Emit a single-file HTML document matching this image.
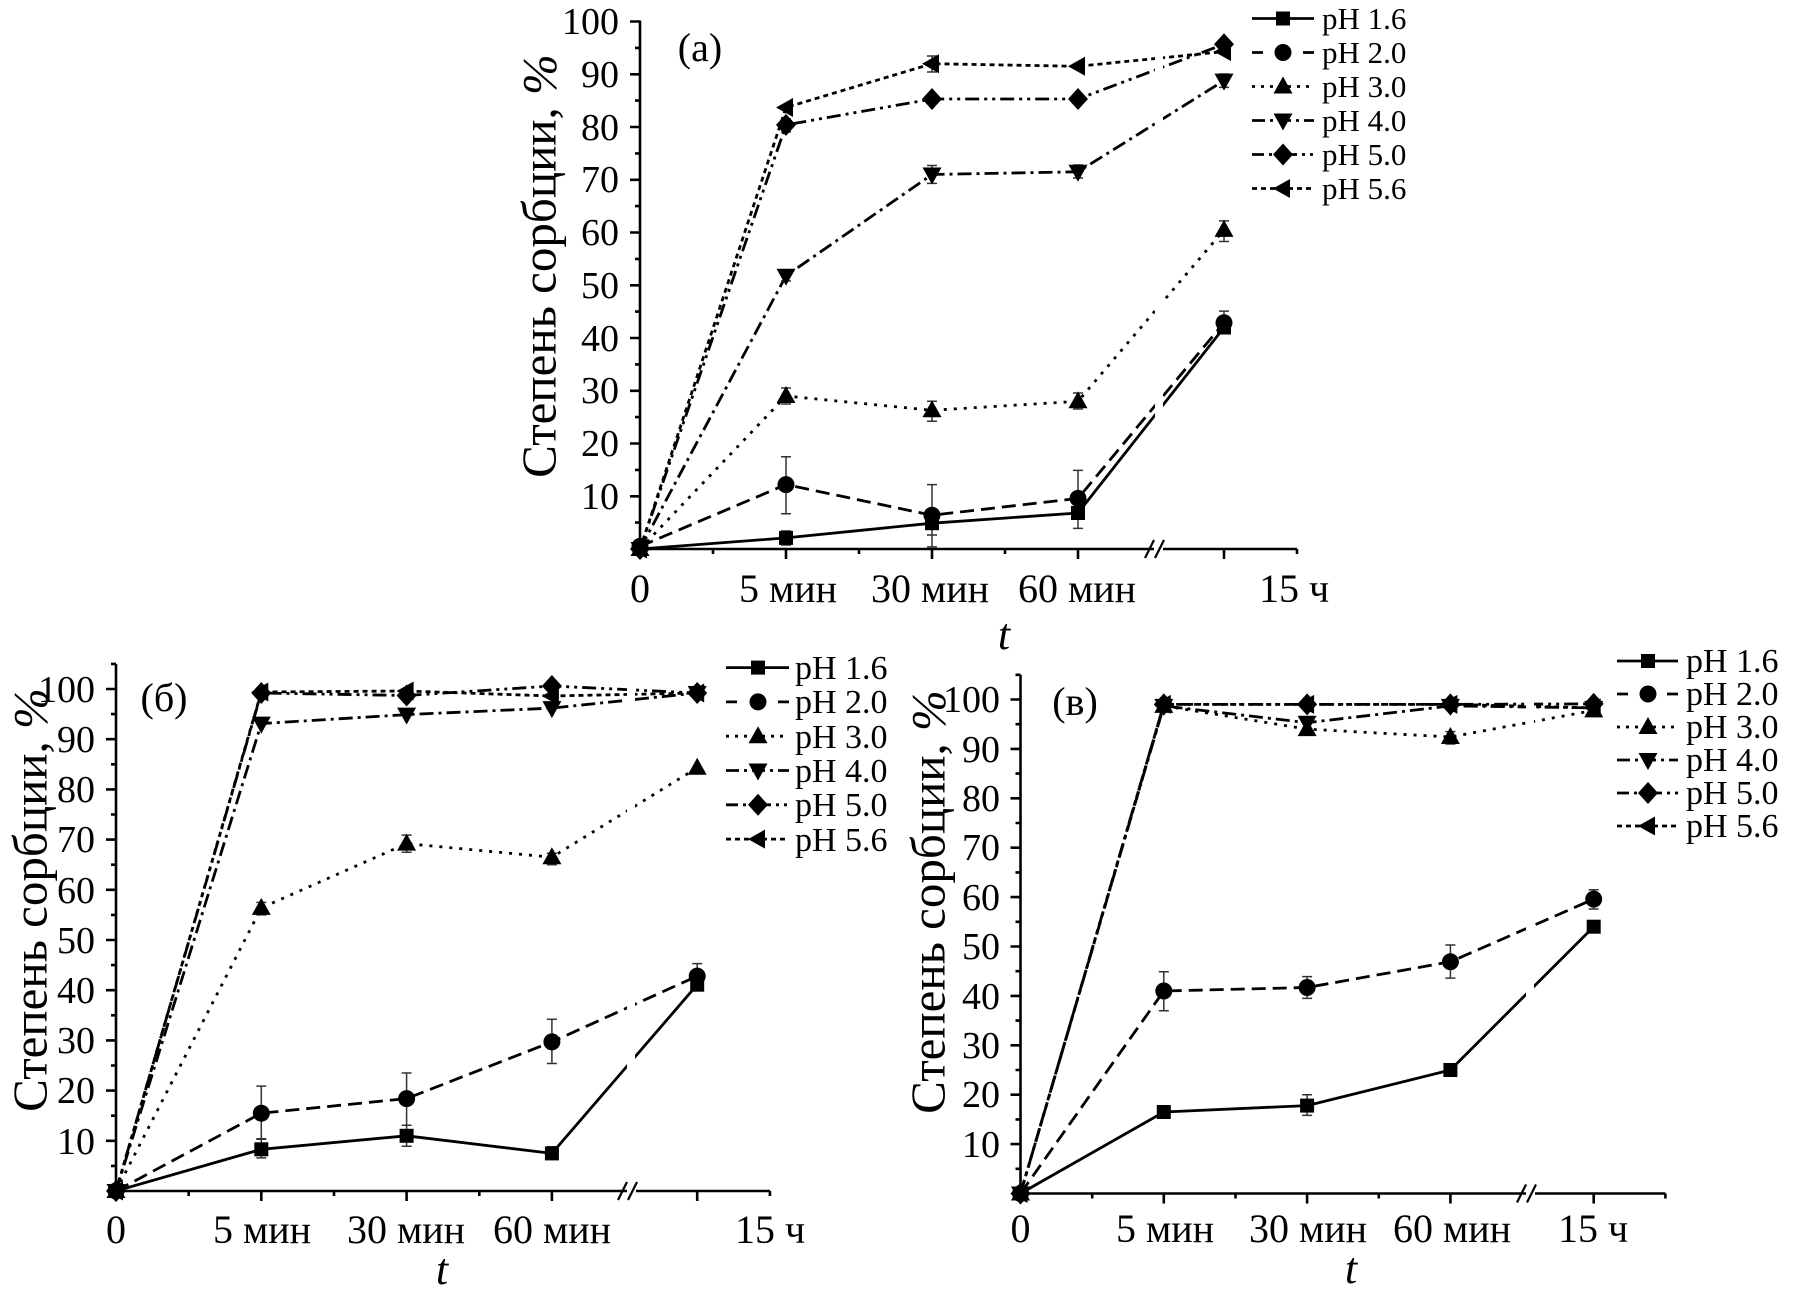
<!DOCTYPE html>
<html>
<head>
<meta charset="utf-8">
<style>
html,body{margin:0;padding:0;background:#fff;}
svg{display:block;}
text{font-family:"Liberation Serif","DejaVu Serif",serif;fill:#000;}
</style>
</head>
<body>
<svg width="1794" height="1307" viewBox="0 0 1794 1307" xmlns="http://www.w3.org/2000/svg">
<defs>
  <rect id="sq" x="-7" y="-7" width="14" height="14" fill="#000"/>
  <circle id="ci" r="8.5" fill="#000"/>
  <polygon id="tu" points="0,-10 9.5,7 -9.5,7" fill="#000"/>
  <polygon id="td" points="0,10 9.5,-7 -9.5,-7" fill="#000"/>
  <polygon id="di" points="0,-11 10,0 0,11 -10,0" fill="#000"/>
  <polygon id="tl" points="-10,0 7,-9.5 7,9.5" fill="#000"/>
</defs>
<rect width="1794" height="1307" fill="#fff"/>

<!-- ================= PLOT (a) ================= -->
<g fill="none" stroke="#000" stroke-width="2.8" stroke-linejoin="round">
  <polyline points="640,549 786,537.9 932,523.2 1078,513 1224,327.5"/>
  <polyline stroke-dasharray="14 7" points="640,546.4 786,484.6 932,515.2 1078,498.4 1224,322.7"/>
  <polyline stroke-dasharray="3 7" points="640,549 786,396 932,410.3 1078,401.3 1224,229.9"/>
  <polyline stroke-dasharray="14 5 3 5" points="640,549 786,275.8 932,174.5 1078,171.8 1224,80.6"/>
  <polyline stroke-dasharray="14 5 3 5 3 5" points="640,549 786,124.9 932,99 1078,99 1224,44.2"/>
  <polyline stroke-dasharray="5 4" points="640,549 786,107.5 932,63.7 1078,66.3 1224,51.6"/>
</g>
<rect x="1155" y="25" width="8" height="520" fill="#fff"/>
<!-- error bars (a) -->
<path fill="none" stroke="#333" stroke-width="1.5" d="
M786,456.7V513.7M781,456.7H791M781,513.7H791
M932,484.6V546.9M927,484.6H937M927,546.9H937
M1078,470.4V528.4M1073,470.4H1083M1073,528.4H1083
M1224,311.1V332.7M1219,311.1H1229M1219,332.7H1229
M786,531V545M781,531H791M781,545H791
M932,512V535M927,512H937M927,535H937
M786,388V404M781,388H791M781,404H791
M932,401.3V421.3M927,401.3H937M927,421.3H937
M1078,393V409M1073,393H1083M1073,409H1083
M1224,220.9V241.5M1219,220.9H1229M1219,241.5H1229
M932,165.5V183.4M927,165.5H937M927,183.4H937
M1078,165V178M1073,165H1083M1073,178H1083
M786,270.5V281M781,270.5H791M781,281H791
M1224,74V87.4M1219,74H1229M1219,87.4H1229
M932,56V72M927,56H937M927,72H937
M786,119V132M781,119H791M781,132H791"/>
<!-- markers (a) -->
<g>
  <use href="#sq" x="640" y="549"/><use href="#sq" x="786" y="537.9"/><use href="#sq" x="932" y="523.2"/><use href="#sq" x="1078" y="513"/><use href="#sq" x="1224" y="327.5"/>
  <use href="#ci" x="640" y="546.4"/><use href="#ci" x="786" y="484.6"/><use href="#ci" x="932" y="515.2"/><use href="#ci" x="1078" y="498.4"/><use href="#ci" x="1224" y="322.7"/>
  <use href="#tu" x="640" y="549"/><use href="#tu" x="786" y="396"/><use href="#tu" x="932" y="410.3"/><use href="#tu" x="1078" y="401.3"/><use href="#tu" x="1224" y="229.9"/>
  <use href="#td" x="640" y="549"/><use href="#td" x="786" y="275.8"/><use href="#td" x="932" y="174.5"/><use href="#td" x="1078" y="171.8"/><use href="#td" x="1224" y="80.6"/>
  <use href="#di" x="640" y="549"/><use href="#di" x="786" y="124.9"/><use href="#di" x="932" y="99"/><use href="#di" x="1078" y="99"/><use href="#di" x="1224" y="44.2"/>
  <use href="#tl" x="640" y="549"/><use href="#tl" x="786" y="107.5"/><use href="#tl" x="932" y="63.7"/><use href="#tl" x="1078" y="66.3"/><use href="#tl" x="1224" y="51.6"/>
</g>
<!-- axes (a) -->
<g fill="none" stroke="#000" stroke-width="2.6">
  <path d="M640,20.5V559 M640,549H1154 M1163,549H1297"/>
  <path d="M630,21.5H640 M635,47.9H640 M630,74.3H640 M635,100.6H640 M630,127H640 M635,153.4H640 M630,179.8H640 M635,206.1H640 M630,232.5H640 M635,258.9H640 M630,285.3H640 M635,311.6H640 M630,338H640 M635,364.4H640 M630,390.8H640 M635,417.1H640 M630,443.5H640 M635,469.9H640 M630,496.3H640 M635,522.6H640"/>
  <path d="M713,549V554 M786,549V559 M859,549V554 M932,549V559 M1005,549V554 M1078,549V559 M1224,549V559 M1297,549V554"/>
  <path stroke-width="2.2" d="M1145,558L1154,540 M1155,558L1164,540"/>
</g>
<g font-size="38" text-anchor="end">
  <text x="619" y="34">100</text><text x="619" y="87">90</text><text x="619" y="140">80</text><text x="619" y="192">70</text><text x="619" y="245">60</text><text x="619" y="298">50</text><text x="619" y="351">40</text><text x="619" y="403">30</text><text x="619" y="456">20</text><text x="619" y="509">10</text>
</g>
<g font-size="40" text-anchor="middle">
  <text x="640" y="602">0</text>
  <text x="788" y="602">5 мин</text>
  <text x="930" y="602">30 мин</text>
  <text x="1077" y="602">60 мин</text>
  <text x="1294" y="602">15 ч</text>
  <text x="700" y="61">(a)</text>
</g>
<text x="1004" y="649" font-size="44" font-style="italic" text-anchor="middle">t</text>
<text transform="translate(539,266) rotate(-90)" font-size="49" text-anchor="middle" dominant-baseline="central">Степень сорбции, <tspan font-style="italic">%</tspan></text>
<!-- legend (a) -->
<g fill="none" stroke="#000" stroke-width="2.8">
  <path d="M1252,18.5H1314"/>
  <path stroke-dasharray="11 40 11" d="M1252,52.5H1314"/>
  <path stroke-dasharray="3 6" d="M1252,86.5H1314"/>
  <path stroke-dasharray="13 5 3 5" d="M1252,120.5H1314"/>
  <path stroke-dasharray="12 5 3 5 3 5" d="M1252,154.5H1314"/>
  <path stroke-dasharray="5 4" d="M1252,188.5H1314"/>
</g>
<use href="#sq" x="1283" y="18.5"/><use href="#ci" x="1283" y="52.5"/><use href="#tu" x="1283" y="86.5"/><use href="#td" x="1283" y="120.5"/><use href="#di" x="1283" y="154.5"/><use href="#tl" x="1283" y="188.5"/>
<g font-size="31">
  <text x="1322" y="29">pH 1.6</text><text x="1322" y="63">pH 2.0</text><text x="1322" y="97">pH 3.0</text><text x="1322" y="131">pH 4.0</text><text x="1322" y="165">pH 5.0</text><text x="1322" y="199">pH 5.6</text>
</g>

<!-- ================= PLOT (б) ================= -->
<g fill="none" stroke="#000" stroke-width="2.8" stroke-linejoin="round">
  <polyline points="116,1191 261.3,1149.3 406.6,1135.8 551.9,1153.4 697.2,984.7"/>
  <polyline stroke-dasharray="14 7" points="116,1191 261.3,1113.2 406.6,1098.6 551.9,1041.9 697.2,976.1"/>
  <polyline stroke-dasharray="3 7" points="116,1191 261.3,907.9 406.6,843.6 551.9,857.2 697.2,767.8"/>
  <polyline stroke-dasharray="14 5 3 5" points="116,1191 261.3,723.6 406.6,714.6 551.9,708.1 697.2,693"/>
  <polyline stroke-dasharray="14 5 3 5 3 5" points="116,1191 261.3,693 406.6,695.5 551.9,686 697.2,693"/>
  <polyline stroke-dasharray="5 4" points="116,1191 261.3,692 406.6,691 551.9,696 697.2,693"/>
</g>
<rect x="627" y="670" width="8" height="517" fill="#fff"/>
<path fill="none" stroke="#333" stroke-width="1.5" d="
M261.3,1086.1V1138.8M256.3,1086.1H266.3M256.3,1138.8H266.3
M406.6,1073V1125.2M401.6,1073H411.6M401.6,1125.2H411.6
M551.9,1019.3V1063.5M546.9,1019.3H556.9M546.9,1063.5H556.9
M697.2,963.6V985.2M692.2,963.6H702.2M692.2,985.2H702.2
M261.3,1139.3V1157.9M256.3,1139.3H266.3M256.3,1157.9H266.3
M406.6,1125.2V1146.3M401.6,1125.2H411.6M401.6,1146.3H411.6
M551.9,1146.8V1158.4M546.9,1146.8H556.9M546.9,1158.4H556.9
M406.6,835.1V852.2M401.6,835.1H411.6M401.6,852.2H411.6
M261.3,902.4V914.9M256.3,902.4H266.3M256.3,914.9H266.3
M551.9,853.2V864.7M546.9,853.2H556.9M546.9,864.7H556.9"/>
<g>
  <use href="#sq" x="116" y="1191"/><use href="#sq" x="261.3" y="1149.3"/><use href="#sq" x="406.6" y="1135.8"/><use href="#sq" x="551.9" y="1153.4"/><use href="#sq" x="697.2" y="984.7"/>
  <use href="#ci" x="116" y="1191"/><use href="#ci" x="261.3" y="1113.2"/><use href="#ci" x="406.6" y="1098.6"/><use href="#ci" x="551.9" y="1041.9"/><use href="#ci" x="697.2" y="976.1"/>
  <use href="#tu" x="116" y="1191"/><use href="#tu" x="261.3" y="907.9"/><use href="#tu" x="406.6" y="843.6"/><use href="#tu" x="551.9" y="857.2"/><use href="#tu" x="697.2" y="767.8"/>
  <use href="#td" x="116" y="1191"/><use href="#td" x="261.3" y="723.6"/><use href="#td" x="406.6" y="714.6"/><use href="#td" x="551.9" y="708.1"/><use href="#td" x="697.2" y="693"/>
  <use href="#di" x="116" y="1191"/><use href="#di" x="261.3" y="693"/><use href="#di" x="406.6" y="695.5"/><use href="#di" x="551.9" y="686"/><use href="#di" x="697.2" y="693"/>
  <use href="#tl" x="116" y="1191"/><use href="#tl" x="261.3" y="692"/><use href="#tl" x="406.6" y="691"/><use href="#tl" x="551.9" y="696"/><use href="#tl" x="697.2" y="693"/>
</g>
<g fill="none" stroke="#000" stroke-width="2.6">
  <path d="M116,663.9V1201 M116,1191H627 M636,1191H770"/>
  <path d="M111,663.9H116 M106,689H116 M111,714.1H116 M106,739.2H116 M111,764.3H116 M106,789.4H116 M111,814.5H116 M106,839.6H116 M111,864.7H116 M106,889.8H116 M111,914.9H116 M106,940H116 M111,965.1H116 M106,990.2H116 M111,1015.3H116 M106,1040.4H116 M111,1065.5H116 M106,1090.6H116 M111,1115.7H116 M106,1140.8H116 M111,1165.9H116"/>
  <path d="M188.7,1191V1196 M261.3,1191V1201 M334,1191V1196 M406.6,1191V1201 M479.3,1191V1196 M551.9,1191V1201 M697.2,1191V1201 M769.9,1191V1196"/>
  <path stroke-width="2.2" d="M618,1200L627,1182 M628,1200L637,1182"/>
</g>
<g font-size="38" text-anchor="end">
  <text x="95" y="702">100</text><text x="95" y="752">90</text><text x="95" y="802">80</text><text x="95" y="852">70</text><text x="95" y="903">60</text><text x="95" y="953">50</text><text x="95" y="1003">40</text><text x="95" y="1053">30</text><text x="95" y="1103">20</text><text x="95" y="1154">10</text>
</g>
<g font-size="40" text-anchor="middle">
  <text x="116" y="1243">0</text>
  <text x="262" y="1243">5 мин</text>
  <text x="406" y="1243">30 мин</text>
  <text x="552" y="1243">60 мин</text>
  <text x="770" y="1243">15 ч</text>
  <text x="164" y="711">(б)</text>
</g>
<text x="442" y="1284" font-size="44" font-style="italic" text-anchor="middle">t</text>
<text transform="translate(30,900) rotate(-90)" font-size="49" text-anchor="middle" dominant-baseline="central">Степень сорбции, <tspan font-style="italic">%</tspan></text>
<g fill="none" stroke="#000" stroke-width="2.8">
  <path d="M726,667.6H789"/>
  <path stroke-dasharray="11 41 11" d="M726,701.9H789"/>
  <path stroke-dasharray="3 6" d="M726,736.2H789"/>
  <path stroke-dasharray="13 5 3 5" d="M726,770.5H789"/>
  <path stroke-dasharray="12 5 3 5 3 5" d="M726,804.8H789"/>
  <path stroke-dasharray="5 4" d="M726,839.1H789"/>
</g>
<use href="#sq" x="758" y="667.6"/><use href="#ci" x="758" y="701.9"/><use href="#tu" x="758" y="736.2"/><use href="#td" x="758" y="770.5"/><use href="#di" x="758" y="804.8"/><use href="#tl" x="758" y="839.1"/>
<g font-size="34">
  <text x="795" y="679">pH 1.6</text><text x="795" y="713">pH 2.0</text><text x="795" y="748">pH 3.0</text><text x="795" y="782">pH 4.0</text><text x="795" y="816">pH 5.0</text><text x="795" y="851">pH 5.6</text>
</g>

<!-- ================= PLOT (в) ================= -->
<g fill="none" stroke="#000" stroke-width="2.8" stroke-linejoin="round">
  <polyline points="1020.5,1193.5 1163.8,1112 1307.1,1105.6 1450.4,1070 1593.7,926.7"/>
  <polyline stroke-dasharray="14 7" points="1020.5,1193.5 1163.8,991 1307.1,987.5 1450.4,961.8 1593.7,899.1"/>
  <polyline stroke-dasharray="3 7" points="1020.5,1193.5 1163.8,705.9 1307.1,729.1 1450.4,737 1593.7,710.4"/>
  <polyline stroke-dasharray="14 5 3 5" points="1020.5,1193.5 1163.8,705.9 1307.1,722.7 1450.4,705.9 1593.7,707.9"/>
  <polyline stroke-dasharray="14 5 3 5 3 5" points="1020.5,1193.5 1163.8,704.4 1307.1,704.4 1450.4,704.4 1593.7,703.9"/>
  <polyline stroke-dasharray="5 4" points="1020.5,1193.5 1163.8,704.4 1307.1,704.4 1450.4,704.4 1593.7,707.9"/>
</g>
<rect x="1526" y="680" width="8" height="509" fill="#fff"/>
<path fill="none" stroke="#333" stroke-width="1.5" d="
M1163.8,971.7V1010.7M1158.8,971.7H1168.8M1158.8,1010.7H1168.8
M1307.1,976.6V998.4M1302.1,976.6H1312.1M1302.1,998.4H1312.1
M1450.4,945V978.1M1445.4,945H1455.4M1445.4,978.1H1455.4
M1593.7,889.7V909M1588.7,889.7H1598.7M1588.7,909H1598.7
M1307.1,1094.7V1115.4M1302.1,1094.7H1312.1M1302.1,1115.4H1312.1
M1163.8,1107V1117M1158.8,1107H1168.8M1158.8,1117H1168.8
M1450.4,731.6V744M1445.4,731.6H1455.4M1445.4,744H1455.4
M1307.1,719V733M1302.1,719H1312.1M1302.1,733H1312.1"/>
<g>
  <use href="#sq" x="1020.5" y="1193.5"/><use href="#sq" x="1163.8" y="1112"/><use href="#sq" x="1307.1" y="1105.6"/><use href="#sq" x="1450.4" y="1070"/><use href="#sq" x="1593.7" y="926.7"/>
  <use href="#ci" x="1020.5" y="1193.5"/><use href="#ci" x="1163.8" y="991"/><use href="#ci" x="1307.1" y="987.5"/><use href="#ci" x="1450.4" y="961.8"/><use href="#ci" x="1593.7" y="899.1"/>
  <use href="#tu" x="1020.5" y="1193.5"/><use href="#tu" x="1163.8" y="705.9"/><use href="#tu" x="1307.1" y="729.1"/><use href="#tu" x="1450.4" y="737"/><use href="#tu" x="1593.7" y="710.4"/>
  <use href="#td" x="1020.5" y="1193.5"/><use href="#td" x="1163.8" y="705.9"/><use href="#td" x="1307.1" y="722.7"/><use href="#td" x="1450.4" y="705.9"/><use href="#td" x="1593.7" y="707.9"/>
  <use href="#di" x="1020.5" y="1193.5"/><use href="#di" x="1163.8" y="704.4"/><use href="#di" x="1307.1" y="704.4"/><use href="#di" x="1450.4" y="704.4"/><use href="#di" x="1593.7" y="703.9"/>
  <use href="#tl" x="1020.5" y="1193.5"/><use href="#tl" x="1163.8" y="704.4"/><use href="#tl" x="1307.1" y="704.4"/><use href="#tl" x="1450.4" y="704.4"/><use href="#tl" x="1593.7" y="707.9"/>
</g>
<g fill="none" stroke="#000" stroke-width="2.6">
  <path d="M1020.5,674.8V1203.5 M1020.5,1193.5H1526 M1535,1193.5H1665.4"/>
  <path d="M1015.5,674.8H1020.5 M1010.5,699.5H1020.5 M1015.5,724.2H1020.5 M1010.5,748.9H1020.5 M1015.5,773.6H1020.5 M1010.5,798.3H1020.5 M1015.5,823H1020.5 M1010.5,847.7H1020.5 M1015.5,872.4H1020.5 M1010.5,897.1H1020.5 M1015.5,921.8H1020.5 M1010.5,946.5H1020.5 M1015.5,971.2H1020.5 M1010.5,995.9H1020.5 M1015.5,1020.6H1020.5 M1010.5,1045.3H1020.5 M1015.5,1070H1020.5 M1010.5,1094.7H1020.5 M1015.5,1119.4H1020.5 M1010.5,1144.1H1020.5 M1015.5,1168.8H1020.5"/>
  <path d="M1092.2,1193.5V1198.5 M1163.8,1193.5V1203.5 M1235.5,1193.5V1198.5 M1307.1,1193.5V1203.5 M1378.8,1193.5V1198.5 M1450.4,1193.5V1203.5 M1593.7,1193.5V1203.5 M1665.4,1193.5V1198.5"/>
  <path stroke-width="2.2" d="M1517,1202.5L1526,1184.5 M1527,1202.5L1536,1184.5"/>
</g>
<g font-size="38" text-anchor="end">
  <text x="1000" y="712">100</text><text x="1000" y="762">90</text><text x="1000" y="811">80</text><text x="1000" y="860">70</text><text x="1000" y="910">60</text><text x="1000" y="959">50</text><text x="1000" y="1009">40</text><text x="1000" y="1058">30</text><text x="1000" y="1107">20</text><text x="1000" y="1157">10</text>
</g>
<g font-size="40" text-anchor="middle">
  <text x="1020.5" y="1242">0</text>
  <text x="1165" y="1242">5 мин</text>
  <text x="1308" y="1242">30 мин</text>
  <text x="1452" y="1242">60 мин</text>
  <text x="1593" y="1242">15 ч</text>
  <text x="1075" y="715">(в)</text>
</g>
<text x="1351" y="1283" font-size="44" font-style="italic" text-anchor="middle">t</text>
<text transform="translate(928,902) rotate(-90)" font-size="49" text-anchor="middle" dominant-baseline="central">Степень сорбции, <tspan font-style="italic">%</tspan></text>
<g fill="none" stroke="#000" stroke-width="2.8">
  <path d="M1617,661H1678"/>
  <path stroke-dasharray="11 39 11" d="M1617,694H1678"/>
  <path stroke-dasharray="3 6" d="M1617,727H1678"/>
  <path stroke-dasharray="13 5 3 5" d="M1617,760H1678"/>
  <path stroke-dasharray="12 5 3 5 3 5" d="M1617,793H1678"/>
  <path stroke-dasharray="5 4" d="M1617,826H1678"/>
</g>
<use href="#sq" x="1648" y="661"/><use href="#ci" x="1648" y="694"/><use href="#tu" x="1648" y="727"/><use href="#td" x="1648" y="760"/><use href="#di" x="1648" y="793"/><use href="#tl" x="1648" y="826"/>
<g font-size="34">
  <text x="1686" y="672">pH 1.6</text><text x="1686" y="705">pH 2.0</text><text x="1686" y="738">pH 3.0</text><text x="1686" y="771">pH 4.0</text><text x="1686" y="804">pH 5.0</text><text x="1686" y="837">pH 5.6</text>
</g>
</svg>
</body>
</html>
